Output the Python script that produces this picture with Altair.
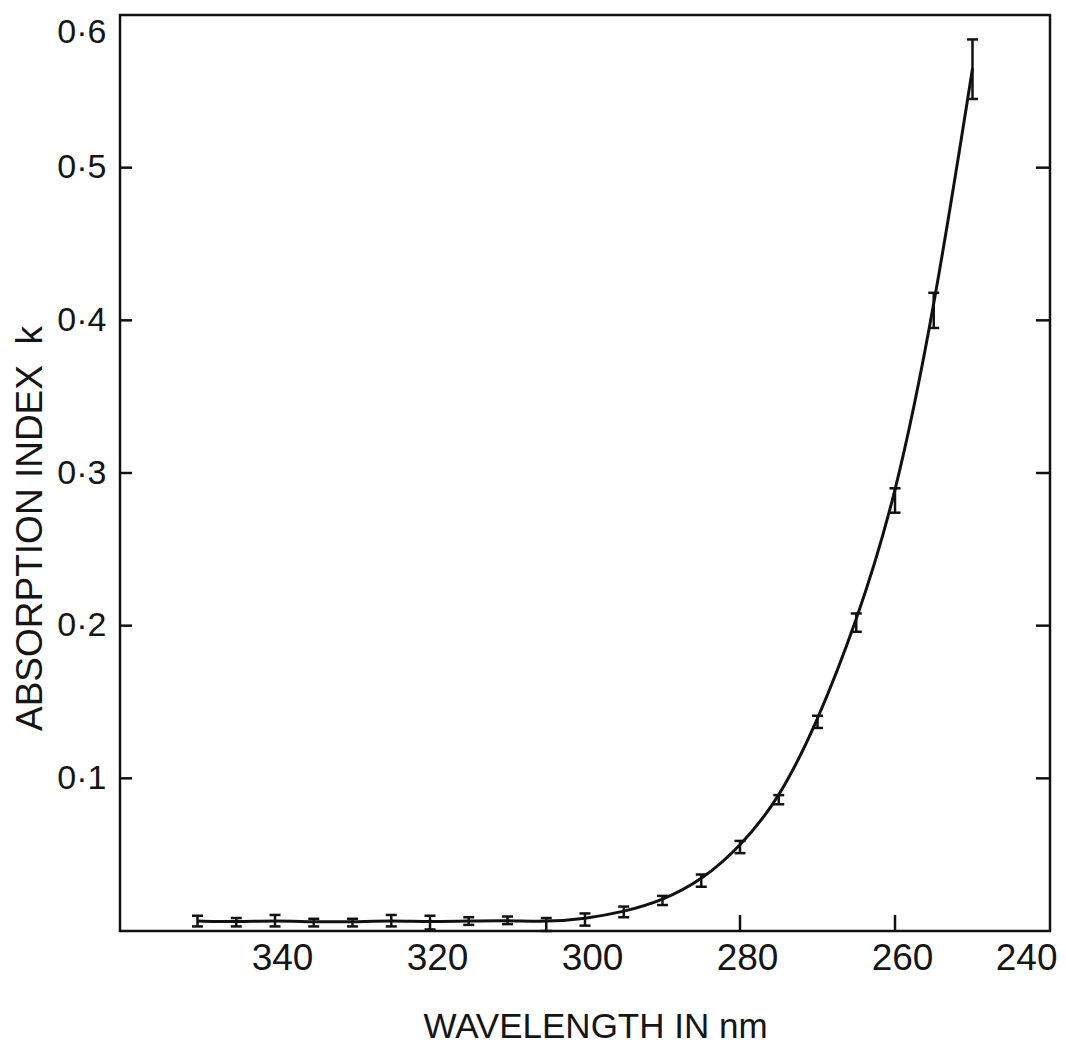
import altair as alt
import pandas as pd

# Absorption index k against wavelength, with measurement uncertainty
wavelength = [350, 345, 340, 335, 330, 325, 320, 315, 310, 305, 300,
              295, 290, 285, 280, 275, 270, 265, 260, 255, 250]
k_value = [0.0065, 0.006, 0.0068, 0.006, 0.006, 0.0068, 0.006, 0.0065, 0.007, 0.006, 0.008,
           0.0125, 0.020, 0.033, 0.055, 0.086, 0.137, 0.202, 0.282, 0.405, 0.565]
k_low = [0.003, 0.003, 0.003, 0.003, 0.003, 0.003, 0.001, 0.004, 0.0045, 0.0, 0.0035,
         0.009, 0.017, 0.029, 0.051, 0.083, 0.133, 0.196, 0.274, 0.395, 0.545]
k_high = [0.010, 0.0085, 0.0105, 0.008, 0.008, 0.0105, 0.010, 0.009, 0.0095, 0.0085, 0.0115,
          0.016, 0.023, 0.037, 0.059, 0.089, 0.141, 0.208, 0.290, 0.418, 0.584]

# Axis labelling
x_tick_labels = [340, 320, 300, 280, 260, 240]
y_tick_labels = [0.1, 0.2, 0.3, 0.4, 0.5, 0.6]
# Inner tick marks drawn on the frame
y_inner_ticks = [0.1, 0.2, 0.3, 0.4, 0.5]
x_inner_ticks = [280, 260]

data = pd.DataFrame({"wl": wavelength, "k": k_value, "lo": k_low, "hi": k_high})
ytick_df = pd.DataFrame({"k": y_inner_ticks})
xtick_df = pd.DataFrame({"wl": x_inner_ticks})

FONT = "Liberation Sans"
NARROW = "Liberation Sans Narrow, Liberation Sans"
INK = "#111"
W, H = 930, 916

xscale = alt.Scale(domain=[360, 240], nice=False, zero=False)
yscale = alt.Scale(domain=[0, 0.6], nice=False, zero=False)

x_axis = alt.Axis(
    title="WAVELENGTH IN nm",
    values=x_tick_labels,
    ticks=False,
    domain=False,
    grid=False,
    labelFont=NARROW,
    labelFontSize=37,
    labelColor="#151515",
    labelPadding=9,
    labelOffset=7,
    labelFlush=True,
    labelOverlap=False,
    titleFont=FONT,
    titleFontSize=35,
    titleFontWeight="normal",
    titleColor="#151515",
    titleX=475,
    titleY=106,
    titleAlign="center",
    titleBaseline="alphabetic",
)

y_axis = alt.Axis(
    title="ABSORPTION INDEX\u00a0\u00a0k",
    values=y_tick_labels,
    labelExpr="replace(format(datum.value, '.1f'), '.', '·')",
    ticks=False,
    domain=False,
    grid=False,
    labelFont=NARROW,
    labelFontSize=34,
    labelColor="#151515",
    labelPadding=14,
    labelFlush=True,
    labelOverlap=False,
    titleFont=FONT,
    titleFontSize=37,
    titleFontWeight="normal",
    titleColor="#151515",
    titleX=-79,
    titleY=513,
    titleAngle=270,
    titleAlign="center",
    titleBaseline="alphabetic",
)


def xenc(field):
    return alt.X(field, type="quantitative", scale=xscale, axis=x_axis)


def yenc(field):
    return alt.Y(field, type="quantitative", scale=yscale, axis=y_axis)


base = alt.Chart(data)

# smooth fitted curve
curve = base.mark_line(interpolate="basis", color=INK, strokeWidth=3).encode(
    x=xenc("wl"),
    y=yenc("k"),
)

# error bars with caps
bars = base.mark_rule(color=INK, strokeWidth=2.5).encode(
    x=xenc("wl"),
    y=yenc("lo"),
    y2="hi:Q",
)

cap_lo = base.mark_tick(orient="horizontal", color=INK, size=11, thickness=2.5, opacity=1).encode(
    x=xenc("wl"),
    y=yenc("lo"),
)

cap_hi = base.mark_tick(orient="horizontal", color=INK, size=11, thickness=2.5, opacity=1).encode(
    x=xenc("wl"),
    y=yenc("hi"),
)

# tick marks pointing into the frame
left_ticks = alt.Chart(ytick_df).mark_rule(color=INK, strokeWidth=2.5).encode(
    y=yenc("k"),
    x=alt.value(0),
    x2=alt.value(12),
)

right_ticks = alt.Chart(ytick_df).mark_rule(color=INK, strokeWidth=2.5).encode(
    y=yenc("k"),
    x=alt.value(W - 14),
    x2=alt.value(W),
)

bottom_ticks = alt.Chart(xtick_df).mark_rule(color=INK, strokeWidth=2.5).encode(
    x=xenc("wl"),
    y=alt.value(H - 16),
    y2=alt.value(H),
)

chart = (
    alt.layer(curve, bars, cap_lo, cap_hi, left_ticks, right_ticks, bottom_ticks)
    .properties(
        width=W,
        height=H,
        autosize=alt.AutoSizeParams(type="none"),
        padding={"left": 120, "top": 15, "right": 16, "bottom": 125},
        background="white",
    )
    .configure_view(stroke=INK, strokeWidth=2.5)
)

chart.save("out.html", embed_options={"renderer": "svg", "actions": False})
